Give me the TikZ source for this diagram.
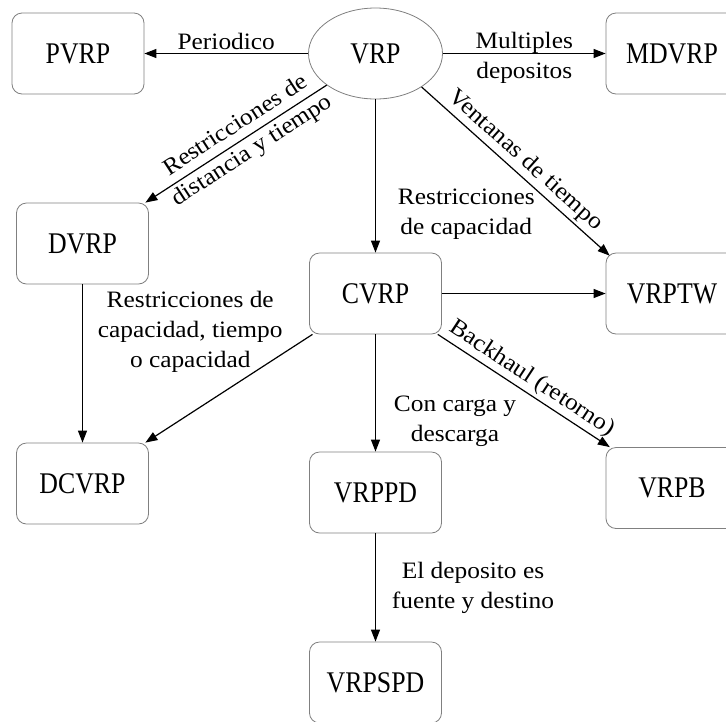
\documentclass[tikz,border=0pt]{standalone}
\usepackage{fontspec}
\setmainfont{Liberation Serif}
\newfontfamily\boxfamily[FakeStretch=0.86]{Liberation Serif}
\newfontfamily\lblfamily[FakeStretch=1.08]{Liberation Serif}
\usetikzlibrary{shapes.geometric,arrows.meta}
\begin{document}
\begin{tikzpicture}[x=1pt,y=-1pt,
  box/.style={draw=black!50, line width=0.8pt, rounded corners=10pt, minimum width=132pt, minimum height=81pt, inner sep=0pt, fill=white, font=\boxfamily\fontsize{30}{36}\selectfont},
  oval/.style={ellipse, draw=black!50, line width=0.8pt, minimum width=134pt, minimum height=91pt, inner sep=0pt, fill=white, font=\boxfamily\fontsize{30}{36}\selectfont},
  arr/.style={draw=black, line width=1.2pt, -{Triangle[length=12pt,width=9pt]}},
  lbl/.style={font=\lblfamily\fontsize{23.5}{30}\selectfont, align=center, text=black}
]
\path[use as bounding box, fill=white] (0,0) rectangle (726,721);

\node[oval] (VRP) at (375.5,53.5) {VRP};
\node[box] (PVRP) at (78,53.5) {PVRP};
\node[box] (MDVRP) at (672,53.5) {MDVRP};
\node[box] (DVRP) at (82.5,243.5) {DVRP};
\node[box] (CVRP) at (375.5,293.5) {CVRP};
\node[box] (VRPTW) at (672,293.5) {VRPTW};
\node[box] (DCVRP) at (82.5,483.5) {DCVRP};
\node[box] (VRPPD) at (375.5,492.5) {VRPPD};
\node[box] (VRPB) at (672,488) {VRPB};
\node[box] (VRPSPD) at (375.5,682.5) {VRPSPD};

\draw[arr] (VRP) -- (PVRP) node[lbl, midway, above] {Periodico};
\draw[arr] (VRP) -- (MDVRP) node[lbl, midway, yshift=-4pt] {Multiples\\depositos};
\draw[arr] (VRP) -- (DVRP) node[lbl, pos=0.455, sloped] {Restricciones de\\distancia y tiempo};
\draw[arr] (VRP) -- (CVRP) node[lbl, pos=0.75, anchor=west, xshift=18.5pt] {Restricciones\\de capacidad};
\draw[arr] (VRP.-36) -- ([xshift=4pt,yshift=-3pt]VRPTW.north west) node[lbl, midway, above, sloped] {Ventanas de tiempo};
\draw[arr] (CVRP) -- (VRPTW);
\draw[arr] (CVRP) -- (DCVRP);
\draw[arr] (CVRP) -- (VRPPD) node[lbl, pos=0.74, anchor=west, xshift=14.5pt] {Con carga y\\descarga};
\draw[arr] (CVRP) -- (VRPB) node[lbl, midway, above, sloped] {Backhaul (retorno)};
\draw[arr] (DVRP) -- (DCVRP) node[lbl, pos=0.3, anchor=west, xshift=11.5pt] {Restricciones de\\capacidad, tiempo\\o capacidad};
\draw[arr] (VRPPD) -- (VRPSPD) node[lbl, midway, anchor=west, xshift=12.5pt] {El deposito es\\fuente y destino};
\end{tikzpicture}
\end{document}
